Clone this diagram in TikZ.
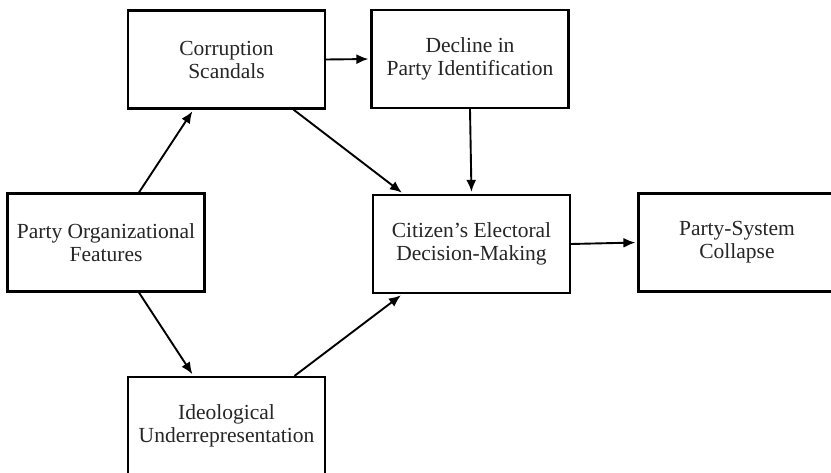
\documentclass[tikz,border=0pt]{standalone}
\usepackage{fontspec}
\setmainfont{Liberation Serif}
\usetikzlibrary{arrows.meta}
\begin{document}
\begin{tikzpicture}[x=1pt,y=-1pt,
  box/.style={draw, line width=2.2pt, minimum width=197pt, minimum height=98pt, inner sep=0pt, align=center, font=\fontsize{21.5}{23}\selectfont, text=black!85},
  arr/.style={line width=1.9pt, -{Latex[length=12pt,width=10pt]}, shorten >=2pt}]
\useasboundingbox (0,0) rectangle (831,473);
\clip (0,0) rectangle (831,473);
\fill[white] (0,0) rectangle (831,473);
\node[box] (corr) at (226.5,59.5) {Corruption\\Scandals};
\node[box] (decl) at (470,59) {Decline in\\Party Identification};
\node[box] (porg) at (106,242.5) {Party Organizational\\Features};
\node[box] (citz) at (471.5,244) {Citizen's Electoral\\Decision-Making};
\node[box] (coll) at (737,242.5) {Party-System\\Collapse};
\node[box] (ideo) at (226.5,426) {Ideological\\Underrepresentation};
\draw[arr] ([xshift=33pt]porg.north) -- ([xshift=-33pt]corr.south);
\draw[arr] ([xshift=67pt]corr.south) -- ([xshift=-68pt]citz.north);
\draw[arr] (corr.east) -- (decl.west);
\draw[arr] (decl.south) -- (citz.north);
\draw[arr] (citz.east) -- (coll.west);
\draw[arr] ([xshift=33pt]porg.south) -- ([xshift=-33pt]ideo.north);
\draw[arr] ([xshift=68pt]ideo.north) -- ([xshift=-69pt]citz.south);
\end{tikzpicture}
\end{document}
